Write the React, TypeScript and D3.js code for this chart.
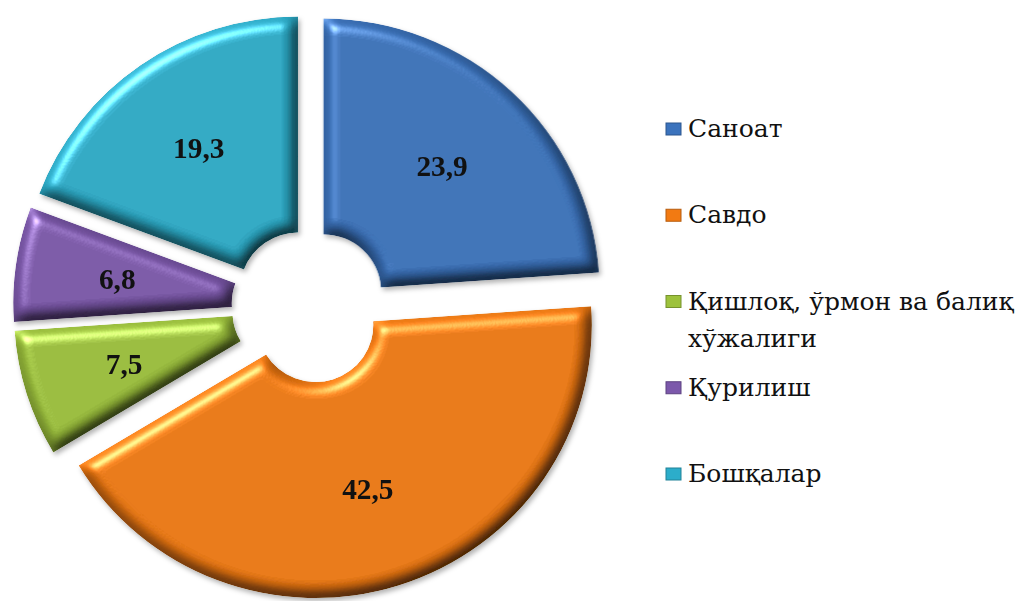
import React from "react";
import * as d3 from "d3";

const categories = ["Саноат", "Савдо", "Қишлоқ, ўрмон ва балиқ\nхўжалиги", "Қурилиш", "Бошқалар"];
const values = [23.9, 42.5, 7.5, 6.8, 19.3];
const colors = ["#3b73bd", "#f27a12", "#9dc23c", "#7c58ab", "#2cadca"];

const W = 1028;
const H = 601;
const CX = 309.5;
const CY = 306;
const R_OUT = 273;
const R_IN = 57;
const EXPLODE = 20;
const LABEL_R = 172;

const fmtLocale = d3.formatLocale({ decimal: ",", thousands: " ", grouping: [3], currency: ["", ""] });
const fmt = fmtLocale.format(".1f");

export default function App() {
  const pie = d3.pie<number>().sort(null).value((d) => d).startAngle(0).endAngle(2 * Math.PI);
  const arcs = pie(values);
  const arcGen = d3.arc<d3.PieArcDatum<number>>().innerRadius(R_IN).outerRadius(R_OUT);
  const labelArc = d3.arc<d3.PieArcDatum<number>>().innerRadius(LABEL_R).outerRadius(LABEL_R);

  const legendY = d3.scalePoint<string>().domain(categories).range([137, 482]);
  const font = "'Liberation Serif', 'DejaVu Serif', serif";
  const legendFont = "'DejaVu Serif', serif";

  return (
    <svg width={W} height={H} style={{ position: "absolute", left: 0, top: 0, background: "#fff" }}>
      <defs>
        <filter id="bevel" x="-5%" y="-5%" width="110%" height="110%" colorInterpolationFilters="sRGB">
          <feGaussianBlur in="SourceAlpha" stdDeviation="7" result="b" />
          <feDiffuseLighting in="b" surfaceScale="8" diffuseConstant="1.04" lightingColor="#ffffff" result="d">
            <feDistantLight azimuth="235" elevation="62" />
          </feDiffuseLighting>
          <feComposite in="SourceGraphic" in2="d" operator="arithmetic" k1="1" k2="0" k3="0" k4="0" result="lit" />
          <feSpecularLighting in="b" surfaceScale="8" specularConstant="0.5" specularExponent="30" lightingColor="#ffffff" result="s">
            <feDistantLight azimuth="235" elevation="45" />
          </feSpecularLighting>
          <feComposite in="s" in2="SourceAlpha" operator="in" result="s2" />
          <feComposite in="lit" in2="s2" operator="arithmetic" k1="0" k2="1" k3="1" k4="0" result="out" />
          <feComposite in="out" in2="SourceAlpha" operator="in" />
        </filter>
        <filter id="shadow" x="-10%" y="-10%" width="120%" height="120%">
          <feDropShadow dx="2" dy="3" stdDeviation="2.5" floodColor="#000" floodOpacity="0.3" />
        </filter>
      </defs>

      <g transform={`translate(${CX},${CY}) scale(1.012,1)`}>
        <g filter="url(#shadow)">
          {arcs.map((a, i) => {
            const mid = (a.startAngle + a.endAngle) / 2;
            const dx = Math.sin(mid) * EXPLODE;
            const dy = -Math.cos(mid) * EXPLODE;
            return (
              <g key={i} transform={`translate(${dx},${dy})`}>
                <path d={arcGen(a) || ""} fill={colors[i]} filter="url(#bevel)" />
              </g>
            );
          })}
        </g>
        {arcs.map((a, i) => {
          const mid = (a.startAngle + a.endAngle) / 2;
          const dx = Math.sin(mid) * EXPLODE;
          const dy = -Math.cos(mid) * EXPLODE;
          const [lx, ly] = labelArc.centroid(a);
          return (
            <text
              key={i}
              x={lx + dx}
              y={ly + dy}
              dy="0.35em"
              textAnchor="middle"
              fontFamily={font}
              fontWeight="bold"
              fontSize={29}
              fill="#111"
            >
              {fmt(values[i])}
            </text>
          );
        })}
      </g>

      <g>
        {categories.map((c, i) => {
          const y = legendY(c) || 0;
          const lines = c.split("\n");
          return (
            <g key={i}>
              <rect x={666} y={y - 14} width={15} height={12} fill={colors[i]} stroke={d3.color(colors[i])!.darker(0.8).toString()} strokeWidth={1} />
              <text x={688} y={y} fontFamily={legendFont} fontSize={25} fill="#111">
                {lines.map((l, j) => (
                  <tspan key={j} x={688} dy={j === 0 ? 0 : 37}>
                    {l}
                  </tspan>
                ))}
              </text>
            </g>
          );
        })}
      </g>
    </svg>
  );
}
